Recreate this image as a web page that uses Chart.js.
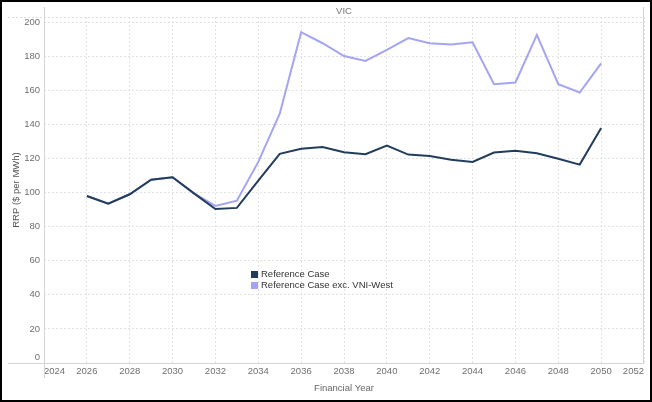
<!DOCTYPE html>
<html>
<head>
<meta charset="utf-8">
<title>VIC RRP</title>
<script src="https://cdn.jsdelivr.net/npm/chart.js@4.4.1/dist/chart.umd.min.js"></script>
<style>
  html, body { margin: 0; padding: 0; background: #fff; }
  #frame { width: 652px; height: 402px; box-sizing: border-box; border: 2px solid #000; }
  canvas { display: block; }
</style>
</head>
<body>
<div id="frame"><canvas id="rrpChart" width="648" height="398"></canvas></div>
<script>
// values ($ per MWh)
const years = [2026, 2027, 2028, 2029, 2030, 2031, 2032, 2033, 2034, 2035, 2036, 2037, 2038,
  2039, 2040, 2041, 2042, 2043, 2044, 2045, 2046, 2047, 2048, 2049, 2050];
const referenceCase = [98, 93.5, 99, 107.5, 109, 99.5, 90.3, 91, 107, 122.7, 125.7, 126.7, 123.7,
  122.5, 127.6, 122.3, 121.4, 119.2, 118, 123.5, 124.5, 123.1, 119.8, 116.4, 137.9];
const excVniWest = [98, 93.5, 99, 107.5, 109, 99.5, 92.2, 95.2, 118, 146.3, 194.1, 187.6, 180.1,
  177.2, 183.7, 190.6, 187.6, 186.8, 188.2, 163.6, 164.6, 192.5, 163.6, 158.7, 175.8];

const yTickValues = [0, 20, 40, 60, 80, 100, 120, 140, 160, 180, 200];

const seriesNames = ['Reference Case', 'Reference Case exc. VNI-West'];
const seriesColors = ['#223d5c', '#a4a4f4'];

const FONT = '"Liberation Sans", Arial, sans-serif';
const TICK_COLOR = '#6f6f6f';

function toPoints(values) {
  return years.map((yr, i) => ({ x: yr, y: values[i] }));
}

// frame lines, panel title, the raised "0" label and the in-plot legend
const decorPlugin = {
  id: 'decor',
  beforeDatasetsDraw(chart) {
    const { ctx, chartArea: a } = chart;
    const yScale = chart.scales.y;
    ctx.save();
    ctx.strokeStyle = '#d4d4d4';
    ctx.lineWidth = 1;
    ctx.beginPath();
    ctx.moveTo(a.left + 0.5, 5);
    ctx.lineTo(a.left + 0.5, a.bottom + 15);
    ctx.moveTo(a.right - 0.5, 5);
    ctx.lineTo(a.right - 0.5, a.bottom);
    ctx.moveTo(6, a.bottom + 0.5);
    ctx.lineTo(a.right, a.bottom + 0.5);
    ctx.stroke();

    ctx.strokeStyle = '#dcdcdc';
    ctx.setLineDash([2, 2]);
    ctx.beginPath();
    ctx.moveTo(6, a.top + 0.5);
    ctx.lineTo(a.right, a.top + 0.5);
    ctx.stroke();
    ctx.setLineDash([]);

    ctx.fillStyle = '#777';
    ctx.font = '9.5px ' + FONT;
    ctx.textAlign = 'center';
    ctx.textBaseline = 'middle';
    ctx.fillText('VIC', (a.left + a.right) / 2, 9);

    ctx.fillStyle = TICK_COLOR;
    ctx.textAlign = 'right';
    ctx.fillText('0', yScale.right - 4, yScale.getPixelForValue(0) - 6);
    ctx.restore();
  },
  afterDatasetsDraw(chart) {
    const { ctx } = chart;
    ctx.save();
    ctx.font = '9.5px ' + FONT;
    ctx.textAlign = 'left';
    ctx.textBaseline = 'middle';
    seriesNames.forEach((name, i) => {
      const y = 272 + i * 11;
      ctx.fillStyle = seriesColors[i];
      ctx.fillRect(249, y - 3, 7, 7);
      ctx.fillStyle = '#333';
      ctx.fillText(name, 259, y + 0.5);
    });
    ctx.restore();
  }
};

new Chart(document.getElementById('rrpChart').getContext('2d'), {
  type: 'line',
  data: {
    datasets: [
      {
        label: seriesNames[0],
        data: toPoints(referenceCase),
        borderColor: seriesColors[0],
        backgroundColor: seriesColors[0],
        borderWidth: 2,
        pointRadius: 0,
        order: 1
      },
      {
        label: seriesNames[1],
        data: toPoints(excVniWest),
        borderColor: seriesColors[1],
        backgroundColor: seriesColors[1],
        borderWidth: 2,
        pointRadius: 0,
        order: 2
      }
    ]
  },
  options: {
    responsive: false,
    animation: false,
    layout: { padding: { top: 15, right: 6, bottom: 0, left: 0 } },
    plugins: {
      legend: { display: false },
      tooltip: { enabled: false }
    },
    scales: {
      x: {
        type: 'linear',
        min: 2024,
        max: 2052,
        afterFit: (scale) => { scale.height = 37; },
        ticks: {
          stepSize: 2,
          align: 'inner',
          maxRotation: 0,
          padding: 3,
          color: TICK_COLOR,
          font: { family: FONT, size: 9.5 },
          callback: (v) => String(v)
        },
        grid: { color: '#e2e2e2', drawTicks: false },
        border: { display: false, dash: [2, 2] },
        title: {
          display: true,
          text: 'Financial Year',
          color: '#666',
          font: { family: FONT, size: 9.5 },
          padding: { top: 0, bottom: 6 }
        }
      },
      y: {
        min: 0,
        max: 203,
        afterFit: (scale) => { scale.width = 42; },
        afterBuildTicks: (scale) => { scale.ticks = yTickValues.map((v) => ({ value: v })); },
        ticks: {
          padding: 4,
          // the 0 label sits above the axis line, drawn by the plugin
          color: (c) => (c.tick && c.tick.value === 0 ? 'rgba(0,0,0,0)' : TICK_COLOR),
          font: { family: FONT, size: 9.5 },
          callback: (v) => String(v)
        },
        grid: { color: '#e2e2e2', drawTicks: false },
        border: { display: false, dash: [2, 2] },
        title: {
          display: true,
          text: 'RRP ($ per MWh)',
          color: '#555',
          font: { family: FONT, size: 9.5 },
          padding: { top: 9, bottom: 0 }
        }
      }
    }
  },
  plugins: [decorPlugin]
});
</script>
</body>
</html>
